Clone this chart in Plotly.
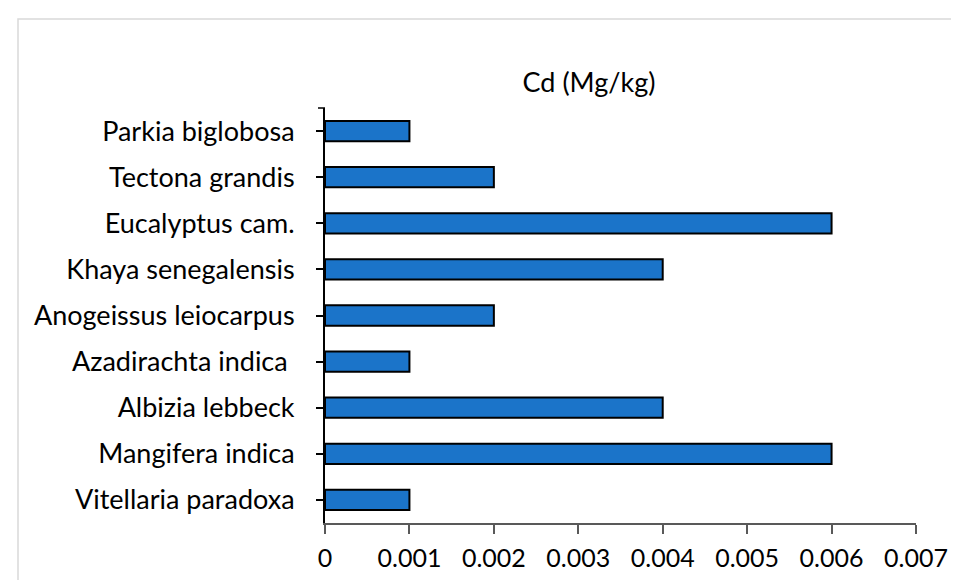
import plotly.graph_objects as go

categories = ["Vitellaria paradoxa", "Mangifera indica", "Albizia lebbeck", "Azadirachta indica ",
              "Anogeissus leiocarpus", "Khaya senegalensis", "Eucalyptus cam.", "Tectona grandis",
              "Parkia biglobosa"]
cd_values = [0.001, 0.006, 0.004, 0.001, 0.002, 0.004, 0.006, 0.002, 0.001]
x_ticks = [0, 0.001, 0.002, 0.003, 0.004, 0.005, 0.006, 0.007]
x_tick_labels = ["0", "0.001", "0.002", "0.003", "0.004", "0.005", "0.006", "0.007"]

fig = go.Figure(go.Bar(
    y=categories, x=cd_values, orientation="h",
    marker=dict(color="#1B74C9", line=dict(color="black", width=2)),
))

fig.update_layout(
    width=959, height=580,
    margin=dict(l=317, r=51, t=100, b=65),
    paper_bgcolor="white", plot_bgcolor="white",
    font=dict(family="Lato, Open Sans, sans-serif", size=26, color="black"),
    title=dict(text="Cd (Mg/kg)", x=581/959, xanchor="center", y=1-75/580, yanchor="middle",
               font=dict(size=27)),
    bargap=0.56,
    showlegend=False,
    xaxis=dict(range=[0, 0.007], tickvals=x_ticks, ticktext=x_tick_labels,
               showgrid=False, zeroline=False, showline=True, linecolor="#595959", linewidth=1.5,
               ticks="outside", ticklen=9, tickcolor="#595959", tickwidth=1.5, ticklabelstandoff=3,
               tickfont=dict(size=25)),
    yaxis=dict(showgrid=False, zeroline=False, showline=True, linecolor="black", linewidth=2,
               ticks="outside", ticklen=7, tickcolor="black", tickwidth=1.5, ticklabelstandoff=16,
               tickfont=dict(size=27)),
)

# top boundary tick on the category axis
fig.add_shape(type="line", xref="paper", yref="paper", x0=-7/591, x1=0, y0=1, y1=1,
              line=dict(color="black", width=1.5))

# outer chart border
fig.add_shape(type="rect", xref="paper", yref="paper",
              x0=-307/591, x1=1.2, y0=-0.5, y1=1 + 89/415,
              line=dict(color="#D9D9D9", width=1.5), fillcolor="rgba(0,0,0,0)")

fig.write_html("out.html")
